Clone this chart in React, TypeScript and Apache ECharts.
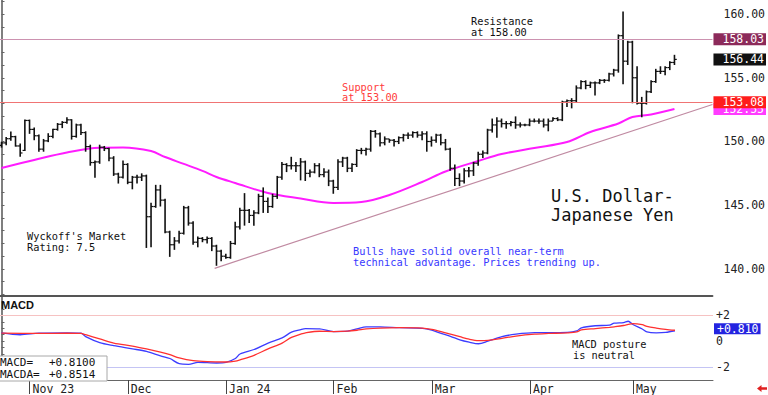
import React, { useEffect, useRef } from "react";
import * as echarts from "echarts";

// ---------- data ----------
const firstSession = "2023-10-24";
const skippedSessions = ["2023-11-23"];
const monthTickLabels = ["Nov 23", "Dec", "Jan 24", "Feb", "Mar", "Apr", "May"];

// [open, high, low, close] per daily session
const usdJpyBars: number[][] = [
  [149.70, 149.98, 149.52, 149.89], [149.89, 150.35, 149.70, 150.22], [150.22, 150.78, 150.05, 150.38],
  [150.38, 150.45, 149.60, 149.65], [149.65, 149.85, 148.80, 149.10], [149.30, 151.72, 149.25, 151.65],
  [151.65, 151.72, 150.60, 150.95], [150.95, 151.10, 150.10, 150.45], [150.45, 150.55, 149.20, 149.40],
  [149.40, 150.20, 149.20, 150.05], [150.05, 150.65, 149.95, 150.40], [150.40, 151.00, 150.25, 150.95],
  [150.95, 151.45, 150.85, 151.35], [151.35, 151.60, 151.05, 151.50], [151.50, 151.90, 151.40, 151.70],
  [151.70, 151.75, 150.15, 150.40], [150.40, 151.40, 150.30, 151.30], [151.30, 151.40, 150.50, 150.70],
  [150.70, 150.80, 149.20, 149.60], [149.60, 149.75, 148.10, 148.35], [148.35, 148.50, 147.15, 148.40],
  [148.40, 149.75, 148.25, 149.55], [149.55, 149.65, 149.25, 149.45], [149.45, 149.50, 148.45, 148.70],
  [148.70, 148.85, 147.30, 147.45], [147.45, 147.55, 146.70, 147.20], [147.20, 148.50, 147.10, 148.20],
  [148.20, 148.30, 146.65, 146.80], [146.80, 147.30, 146.25, 147.20], [147.20, 147.40, 146.70, 147.20],
  [147.20, 147.50, 146.90, 147.30], [147.30, 147.40, 141.65, 144.10], [144.10, 145.20, 141.70, 144.90],
  [144.90, 146.60, 144.80, 146.20], [146.20, 146.60, 144.90, 145.40], [145.40, 145.50, 142.80, 142.90],
  [142.90, 143.00, 140.95, 141.90], [141.90, 142.50, 141.50, 142.20], [142.20, 143.00, 142.00, 142.80],
  [142.80, 144.95, 142.70, 144.80], [144.80, 144.95, 143.40, 143.60], [143.60, 143.75, 141.90, 142.10],
  [142.10, 142.55, 141.70, 142.40], [142.40, 142.50, 142.10, 142.30], [142.30, 142.55, 142.00, 142.40],
  [142.40, 142.50, 141.40, 141.80], [141.80, 141.90, 140.25, 141.40], [141.40, 141.50, 140.60, 141.00],
  [141.00, 141.20, 140.80, 140.90], [140.90, 142.20, 140.80, 142.00], [142.00, 143.70, 141.90, 143.30],
  [143.30, 144.80, 143.10, 144.60], [144.60, 145.95, 143.40, 144.60], [144.60, 144.70, 143.60, 144.20],
  [144.20, 144.60, 143.40, 144.40], [144.40, 145.90, 144.30, 145.70], [145.70, 146.40, 144.40, 145.30],
  [145.30, 145.60, 144.40, 144.90], [144.90, 145.90, 144.80, 145.70], [145.70, 147.30, 145.50, 147.20],
  [147.20, 148.40, 147.00, 148.20], [148.20, 148.30, 147.60, 148.10], [148.10, 148.80, 147.80, 148.10],
  [148.10, 148.40, 147.60, 148.10], [148.10, 148.70, 146.95, 148.40], [148.40, 148.50, 146.90, 147.50],
  [147.50, 147.80, 147.20, 147.60], [147.60, 148.30, 147.50, 148.10], [148.10, 148.30, 147.20, 147.40],
  [147.40, 147.90, 147.20, 147.60], [147.60, 147.80, 146.50, 146.90], [146.90, 147.00, 145.90, 146.40],
  [146.40, 148.60, 146.20, 148.40], [148.40, 148.80, 148.00, 148.70], [148.70, 148.80, 147.60, 147.90],
  [147.90, 148.30, 147.60, 148.20], [148.20, 149.40, 148.00, 149.30], [149.30, 149.50, 149.00, 149.30],
  [149.30, 149.50, 148.90, 149.40], [149.40, 150.90, 149.20, 150.80], [150.80, 150.90, 150.30, 150.60],
  [150.60, 150.70, 149.60, 149.90], [149.90, 150.40, 149.70, 150.20], [150.20, 150.20, 149.90, 150.10],
  [150.10, 150.20, 149.60, 150.00], [150.00, 150.40, 149.80, 150.30], [150.30, 150.60, 150.00, 150.50],
  [150.50, 150.70, 150.20, 150.50], [150.50, 150.80, 150.30, 150.70], [150.70, 150.80, 150.30, 150.50],
  [150.50, 150.80, 150.10, 150.60], [150.60, 150.80, 149.20, 150.00], [150.00, 150.40, 149.60, 150.10],
  [150.10, 150.60, 149.90, 150.50], [150.50, 150.60, 149.70, 149.90], [149.90, 150.20, 149.30, 149.40],
  [149.40, 149.50, 147.70, 147.90], [147.90, 148.20, 146.50, 147.10], [147.10, 147.50, 146.50, 146.90],
  [146.90, 147.90, 146.70, 147.70], [147.70, 148.00, 147.20, 147.70], [147.70, 148.40, 147.30, 148.30],
  [148.30, 149.20, 148.10, 149.00], [149.00, 149.30, 148.70, 149.10], [149.10, 151.00, 149.00, 150.90],
  [150.90, 151.80, 150.70, 151.30], [151.30, 151.90, 150.30, 151.60], [151.60, 151.80, 151.10, 151.40],
  [151.40, 151.60, 151.00, 151.40], [151.40, 151.60, 151.20, 151.50], [151.50, 151.97, 151.00, 151.30],
  [151.30, 151.50, 151.10, 151.30], [151.30, 151.40, 151.20, 151.30], [151.30, 151.80, 151.20, 151.60],
  [151.60, 151.80, 151.50, 151.60], [151.60, 151.80, 151.40, 151.60], [151.60, 151.80, 151.10, 151.30],
  [151.30, 151.80, 150.80, 151.60], [151.60, 151.90, 151.60, 151.80], [151.80, 151.90, 151.60, 151.70],
  [151.70, 153.20, 151.60, 153.10], [153.10, 153.30, 152.70, 153.20], [153.20, 153.40, 152.60, 153.20],
  [153.20, 154.40, 153.10, 154.20], [154.20, 154.80, 154.10, 154.70], [154.70, 154.80, 154.10, 154.40],
  [154.40, 154.70, 154.20, 154.60], [154.60, 154.70, 153.60, 154.60], [154.60, 154.90, 154.50, 154.80],
  [154.80, 154.90, 154.60, 154.80], [154.80, 155.40, 154.70, 155.30], [155.30, 155.70, 155.10, 155.60],
  [155.60, 158.40, 155.40, 158.30], [158.30, 160.20, 154.50, 156.30], [156.30, 157.90, 156.00, 157.80],
  [157.80, 157.90, 153.00, 155.00], [155.00, 155.90, 152.90, 153.00], [153.00, 153.50, 151.90, 153.00],
  [153.00, 154.00, 152.90, 153.90], [153.90, 154.80, 153.80, 154.70], [154.70, 155.70, 154.60, 155.50],
  [155.50, 155.90, 155.30, 155.50], [155.50, 155.90, 155.20, 155.80], [155.80, 156.30, 155.60, 156.20],
  [156.20, 156.80, 156.00, 156.44],
];

// [session index, value]
const movingAverage: number[][] = [
  [0, 147.92], [7, 148.55], [14, 149.14], [21, 149.51], [26, 149.53], [32, 149.25], [35, 148.78],
  [39, 148.24], [43, 147.69], [46, 147.22], [50, 146.75], [57, 145.96], [64, 145.53], [71, 145.18],
  [77, 145.25], [83, 145.8], [90, 146.82], [95, 147.65], [102, 148.47], [107, 149.02], [114, 149.49],
  [121, 149.96], [126, 150.75], [132, 151.41], [135, 151.92], [139, 152.12], [144, 152.55],
];

const macdLine: number[][] = [
  [0, 0.65], [4, 0.5], [8, 0.62], [14, 0.64], [17, 0.62], [18, 0.35], [21, -0.12], [24, -0.35],
  [28, -0.6], [31, -0.8], [34, -1.15], [36, -1.35], [38, -1.75], [40, -1.8], [42, -1.65], [46, -1.7],
  [48, -1.65], [50, -1.35], [51, -1.0], [54, -0.65], [57, -0.15], [60, 0.25], [62, 0.7], [64, 0.9],
  [65, 0.97], [68, 0.95], [71, 0.75], [74, 0.78], [76, 0.95], [78, 1.12], [81, 1.12], [85, 1.05],
  [90, 1.0], [92, 0.85], [94, 0.6], [96, 0.38], [98, 0.1], [100, -0.08], [102, -0.2], [104, 0.0],
  [107, 0.35], [110, 0.55], [114, 0.67], [117, 0.66], [121, 0.68], [123, 0.8], [124, 1.04], [127, 1.2],
  [130, 1.25], [131, 1.4], [133, 1.45], [134, 1.55], [135, 1.3], [137, 0.95], [138, 0.72], [140, 0.65],
  [142, 0.68], [144, 0.81],
];

const macdSignal: number[][] = [
  [0, 0.62], [8, 0.6], [14, 0.62], [17, 0.6], [18, 0.5], [21, 0.18], [24, -0.15], [28, -0.38],
  [31, -0.6], [34, -0.85], [36, -1.05], [38, -1.3], [41, -1.52], [44, -1.6], [48, -1.62], [50, -1.55],
  [51, -1.45], [54, -1.1], [57, -0.6], [60, -0.15], [62, 0.3], [64, 0.55], [65, 0.65], [68, 0.77],
  [71, 0.75], [74, 0.78], [76, 0.85], [78, 0.95], [81, 1.02], [85, 1.05], [90, 1.02], [92, 0.92],
  [94, 0.75], [96, 0.55], [98, 0.35], [100, 0.15], [102, 0.04], [104, 0.06], [107, 0.22], [110, 0.4],
  [114, 0.55], [117, 0.6], [121, 0.65], [123, 0.72], [124, 0.88], [127, 0.98], [130, 1.08], [131, 1.12],
  [133, 1.22], [134, 1.3], [135, 1.37], [137, 1.28], [138, 1.15], [140, 1.02], [142, 0.92], [144, 0.85],
];

const trendLine: number[][] = [[45.6, 140.05], [152.13, 152.9]];
const priceAxisLabels = [140, 145, 150, 155, 160];
const priceAxisTicks = [138, 139, 140, 141, 142, 143, 144, 145, 146, 147, 148, 149, 150, 151, 152, 153, 154, 155, 156, 157, 158, 159, 160, 161];
const macdAxisLabels = [-2, 0, 2];
const macdAxisTicks = [-3, -2.5, -2, -1.5, -1, -0.5, 0, 0.5, 1, 1.5, 2, 2.5, 3];
const resistanceLevel = 158.03;
const supportLevel = 153.08;
const lastClose = 156.44;
const lastAverage = 152.55;
const lastMacd = 0.81;
const macdReadout = "+0.8100";
const macdaReadout = "+0.8514";

// ---------- helpers ----------
function sessionDates(count: number): string[] {
  const out: string[] = [];
  const d = new Date(firstSession + "T00:00:00Z");
  while (out.length < count) {
    const day = d.getUTCDay();
    const iso = d.toISOString().slice(0, 10);
    if (day !== 0 && day !== 6 && !skippedSessions.includes(iso)) out.push(iso);
    d.setUTCDate(d.getUTCDate() + 1);
  }
  return out;
}

const MONO = '"DejaVu Sans Mono", monospace';
const X_MIN = -0.32;
const X_MAX = 152.13;

export default function App() {
  const ref = useRef<HTMLDivElement>(null);

  useEffect(() => {
    document.body.style.margin = "0";
    if (!ref.current) return;
    const chart = echarts.init(ref.current, null, { renderer: "svg" });

    const dates = sessionDates(usdJpyBars.length);
    const monthStarts: number[] = [];
    for (let i = 1; i < dates.length; i++) {
      if (dates[i].slice(0, 7) !== dates[i - 1].slice(0, 7)) monthStarts.push(i);
    }

    const boxLabel = (text: string, bg: string, pad: number[] = [0, 2, 0, 9], lh = 12, dy = 0) => ({
      show: true,
      position: "end",
      formatter: text,
      color: "#fff",
      backgroundColor: bg,
      fontFamily: MONO,
      fontSize: 11.5,
      lineHeight: lh,
      padding: pad,
      distance: 1,
      offset: [0, dy],
    });

    const txt = (x: number, y: number, text: string, fill = "#111", size = 10.3, extra: any = {}) => ({
      type: "text",
      x,
      y,
      z: 100,
      style: { text, fill, fontFamily: MONO, fontSize: size, lineHeight: size, verticalAlign: "middle", ...extra },
    });

    const option: any = {
      animation: false,
      backgroundColor: "#fff",
      grid: [
        { left: 0, top: 0, width: 713, height: 296 },
        { left: 0, top: 297, width: 713, height: 84 },
      ],
      xAxis: [
        {
          type: "value", gridIndex: 0, min: X_MIN, max: X_MAX,
          axisLine: { show: true, onZero: false, lineStyle: { color: "#555", width: 2 } },
          axisTick: { show: false }, axisLabel: { show: false }, splitLine: { show: false },
        },
        {
          type: "value", gridIndex: 1, min: X_MIN, max: X_MAX,
          axisLine: { show: true, onZero: false, lineStyle: { color: "#666", width: 1 } },
          axisTick: { show: true, customValues: monthStarts, length: 14, lineStyle: { color: "#444" } },
          axisLabel: {
            customValues: monthStarts,
            formatter: (v: number) => {
              const k = monthStarts.indexOf(Math.round(v));
              return k >= 0 ? monthTickLabels[k] : "";
            },
            align: "left", margin: 3, padding: [0, 0, 0, 3],
            fontFamily: MONO, fontSize: 11.5, color: "#222",
          },
          splitLine: { show: false },
        },
      ],
      yAxis: [
        {
          type: "value", gridIndex: 0, position: "right", min: 137.88, max: 161.1,
          axisLine: { show: true, lineStyle: { color: "#555", width: 1.5 } },
          axisTick: { show: true, customValues: priceAxisTicks, length: 3, lineStyle: { color: "#666" } },
          axisLabel: {
            customValues: priceAxisLabels, formatter: (v: number) => v.toFixed(2),
            margin: 11, fontFamily: MONO, fontSize: 11.5, color: "#222",
          },
          splitLine: { show: false },
        },
        {
          type: "value", gridIndex: 1, position: "right", min: -3.023, max: 3.438,
          axisLine: { show: true, lineStyle: { color: "#555", width: 1.5 } },
          axisTick: { show: true, customValues: macdAxisTicks, length: 3, lineStyle: { color: "#666" } },
          axisLabel: {
            customValues: macdAxisLabels,
            formatter: (v: number) => (v > 0 ? "+" + v : String(v)),
            margin: 3, fontFamily: MONO, fontSize: 11.5, lineHeight: 9, color: "#222",
          },
          splitLine: { show: false },
        },
      ],
      series: [
        {
          type: "line", name: "MA", xAxisIndex: 0, yAxisIndex: 0, data: movingAverage,
          smooth: 0.35, symbol: "none", z: 2,
          lineStyle: { color: "#ff1cff", width: 2 },
          markLine: {
            silent: true, symbol: ["none", "none"],
            lineStyle: { color: "transparent", width: 0 },
            data: [{ yAxis: lastAverage, label: boxLabel(lastAverage.toFixed(2), "#ff3cff") }],
          },
        },
        {
          type: "line", name: "trend", xAxisIndex: 0, yAxisIndex: 0, data: trendLine,
          symbol: "none", z: 3,
          lineStyle: { color: "#c08aa2", width: 1.2 },
          markLine: {
            silent: true, symbol: ["none", "none"],
            data: [
              { yAxis: resistanceLevel, lineStyle: { color: "#cc92b0", width: 1, type: "solid" }, label: boxLabel(resistanceLevel.toFixed(2), "#8c2a5a") },
              { yAxis: lastClose, lineStyle: { color: "transparent", width: 0 }, label: boxLabel(lastClose.toFixed(2), "#111") },
              { yAxis: supportLevel, lineStyle: { color: "#f07474", width: 1, type: "solid" }, label: boxLabel(supportLevel.toFixed(2), "#ff1c1c") },
            ],
          },
        },
        {
          type: "custom", name: "USD/JPY", xAxisIndex: 0, yAxisIndex: 0, z: 4,
          data: usdJpyBars.map((b, i) => [i, b[0], b[1], b[2], b[3]]),
          encode: { x: 0, y: [1, 2, 3, 4] },
          renderItem: (params: any, api: any) => {
            const i = api.value(0);
            const op = api.coord([i, api.value(1)]);
            const hi = api.coord([i, api.value(2)]);
            const lo = api.coord([i, api.value(3)]);
            const cl = api.coord([i, api.value(4)]);
            const x = hi[0];
            return {
              type: "group",
              children: [
                { type: "line", shape: { x1: x, y1: hi[1], x2: x, y2: lo[1] }, style: { stroke: "#111", lineWidth: 1.6 } },
                { type: "line", shape: { x1: x - 2.3, y1: op[1], x2: x, y2: op[1] }, style: { stroke: "#111", lineWidth: 1.2 } },
                { type: "line", shape: { x1: x, y1: cl[1], x2: x + 2.3, y2: cl[1] }, style: { stroke: "#111", lineWidth: 1.2 } },
              ],
            };
          },
        },
        {
          type: "line", name: "MACD", xAxisIndex: 1, yAxisIndex: 1, data: macdLine,
          smooth: 0.3, symbol: "none", z: 3,
          lineStyle: { color: "#3c3cff", width: 1.3 },
          markLine: {
            silent: true, symbol: ["none", "none"],
            data: [
              { yAxis: 2, lineStyle: { color: "#f6c2c2", width: 1, type: "solid" }, label: { show: false } },
              { yAxis: -2, lineStyle: { color: "#c4c4f4", width: 1, type: "solid" }, label: { show: false } },
              { yAxis: lastMacd, lineStyle: { color: "transparent", width: 0 }, label: boxLabel("+" + lastMacd.toFixed(3), "#2424e0", [1, 2, 0, 3], 10, -2) },
            ],
          },
        },
        {
          type: "line", name: "MACDA", xAxisIndex: 1, yAxisIndex: 1, data: macdSignal,
          smooth: 0.3, symbol: "none", z: 4,
          lineStyle: { color: "#ff3030", width: 1.3 },
        },
      ],
      graphic: [
        txt(471, 21, "Resistance"),
        txt(471, 31.5, "at 158.00"),
        txt(342, 86.5, "Support", "#ff3c3c"),
        txt(342, 97, "at 153.00", "#ff3c3c"),
        txt(27, 236, "Wyckoff's Market"),
        txt(27, 246.5, "Rating: 7.5"),
        txt(353, 251, "Bulls have solid overall near-term", "#3838ff"),
        txt(353, 262, "technical advantage. Prices trending up.", "#3838ff"),
        txt(551, 196, "U.S. Dollar-", "#111", 17),
        txt(551, 215, "Japanese Yen", "#111", 17),
        txt(572, 344, "MACD posture"),
        txt(573, 354.5, "is neutral"),
        {
          type: "text", x: 1, y: 305, z: 100,
          style: { text: "MACD", fill: "#111", fontFamily: '"Liberation Sans", Arial, sans-serif', fontWeight: "bold", fontSize: 11, verticalAlign: "middle" },
        },
        {
          type: "rect", z: 99,
          shape: { x: -1, y: 356, width: 108, height: 25 },
          style: { fill: "#fff", stroke: "#a8a8a8", lineWidth: 1 },
        },
        txt(0, 362, "MACD=", "#111", 11),
        txt(49, 362, macdReadout, "#111", 11),
        txt(0, 374, "MACDA=", "#111", 11),
        txt(49, 374, macdaReadout, "#111", 11),
        {
          type: "polygon", z: 100,
          shape: { points: [[757, 388.5], [761.5, 385], [761.5, 387.3], [767, 387.3], [767, 389.7], [761.5, 389.7], [761.5, 392]] },
          style: { fill: "#e02020" },
        },
      ],
    };

    chart.setOption(option);
    return () => chart.dispose();
  }, []);

  return <div ref={ref} style={{ position: "absolute", left: 0, top: 0, width: 768, height: 395 }} />;
}
